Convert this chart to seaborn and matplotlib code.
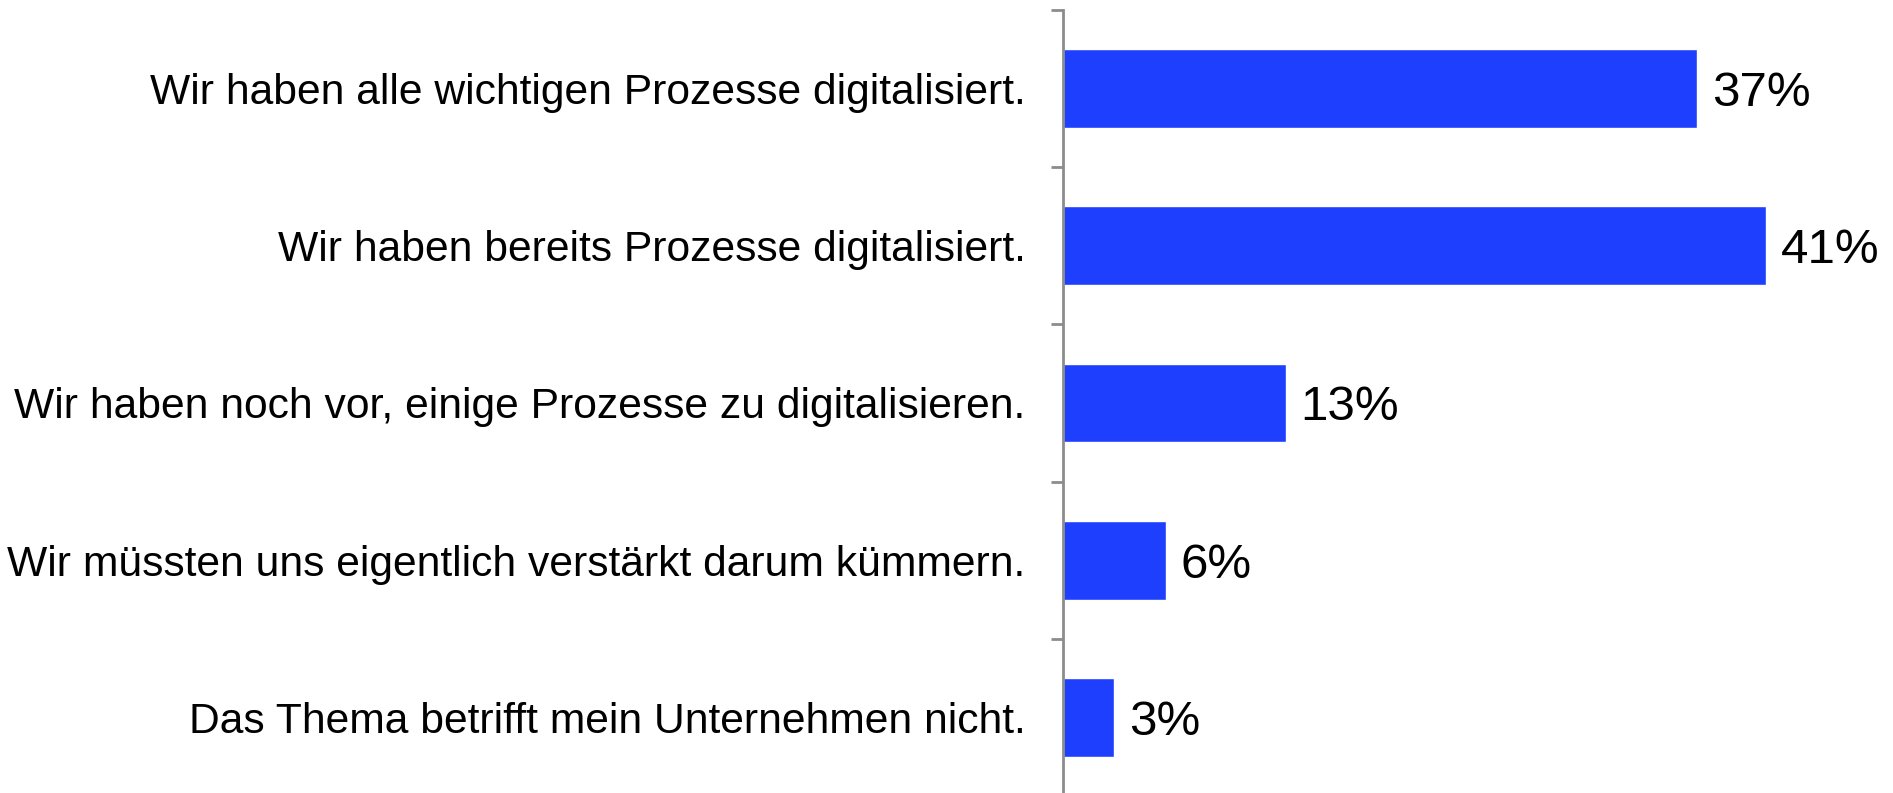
import matplotlib.pyplot as plt
import seaborn as sns
import pandas as pd

categories = [
    "Wir haben alle wichtigen Prozesse digitalisiert.",
    "Wir haben bereits Prozesse digitalisiert.",
    "Wir haben noch vor, einige Prozesse zu digitalisieren.",
    "Wir müssten uns eigentlich verstärkt darum kümmern.",
    "Das Thema betrifft mein Unternehmen nicht.",
]
values = [37, 41, 13, 6, 3]

df = pd.DataFrame({"cat": categories, "val": values})

sns.set_style("white")
plt.rcParams["font.family"] = ["Liberation Sans", "DejaVu Sans"]

fig = plt.figure(figsize=(18.93, 7.93), dpi=100)
ax = fig.add_axes([0.5615, -0.004, 0.4385, 0.992])

sns.barplot(data=df, x="val", y="cat", orient="h", color="#1f3fff",
            saturation=1, width=0.5, ax=ax)

ax.set_xlim(0, 48.4)
ax.set_ylim(4.5, -0.5)
ax.set_xlabel("")
ax.set_ylabel("")
ax.set_xticks([])

# category labels at centres, ticks at the boundaries
ax.set_yticks(range(len(categories)))
ax.set_yticklabels(categories, fontsize=30.7, color="black")
ax.tick_params(axis="y", which="major", length=0, pad=27)
ax.set_yticks([i - 0.5 for i in range(len(categories) + 1)], minor=True)
ax.tick_params(axis="y", which="minor", length=8.6, width=2, color="#8c8c8c",
               direction="out", left=True)

for s in ["top", "right", "bottom"]:
    ax.spines[s].set_visible(False)
ax.spines["left"].set_color("#8c8c8c")
ax.spines["left"].set_linewidth(2)

for i, v in enumerate(values):
    ax.text(v + 0.85, i, f"{v}%", va="center_baseline", ha="left",
            fontsize=35.5, color="black")

fig.savefig("out.png", dpi=100)
